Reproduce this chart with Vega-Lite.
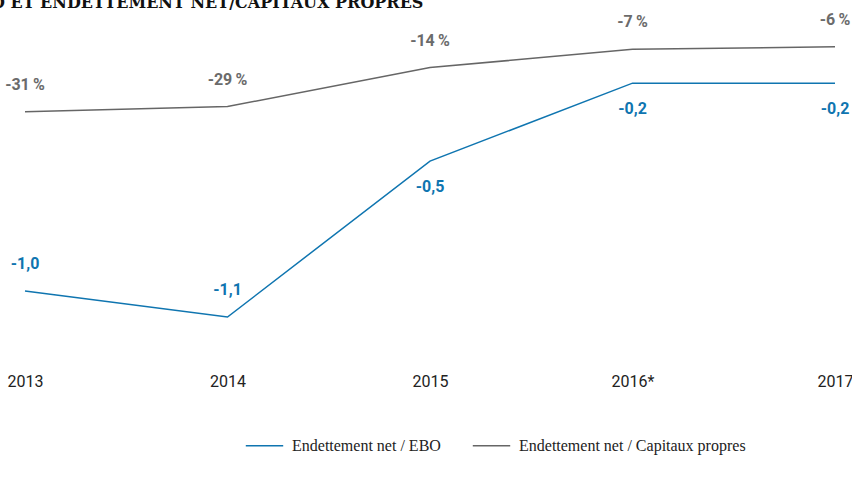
{
  "$schema": "https://vega.github.io/schema/vega-lite/v6.json",
  "autosize": {"type": "none"},
  "width": 810,
  "height": 369,
  "padding": {"left": 25, "top": 0, "right": 17, "bottom": 114},
  "title": {
    "text": "ENDETTEMENT NET/EBO ET ENDETTEMENT NET/CAPITAUX PROPRES",
    "anchor": "start",
    "frame": "group",
    "orient": "top",
    "offset": 0,
    "baseline": "alphabetic",
    "dy": 24,
    "dx": -255,
    "font": "DejaVu Serif",
    "fontSize": 16,
    "fontWeight": "bold",
    "color": "#111111"
  },
  "config": {
    "view": {"stroke": null},
    "locale": {
      "number": {"decimal": ",", "thousands": " ", "grouping": [3], "currency": ["", " €"], "minus": "-", "percent": "\u2009%"}
    }
  },
  "data": {
    "values": [
      {"year": "2013", "series": "Endettement net / EBO", "value": -1.0},
      {"year": "2014", "series": "Endettement net / EBO", "value": -1.1},
      {"year": "2015", "series": "Endettement net / EBO", "value": -0.5},
      {"year": "2016*", "series": "Endettement net / EBO", "value": -0.2},
      {"year": "2017", "series": "Endettement net / EBO", "value": -0.2},
      {"year": "2013", "series": "Endettement net / Capitaux propres", "value": -0.31},
      {"year": "2014", "series": "Endettement net / Capitaux propres", "value": -0.29},
      {"year": "2015", "series": "Endettement net / Capitaux propres", "value": -0.14},
      {"year": "2016*", "series": "Endettement net / Capitaux propres", "value": -0.07},
      {"year": "2017", "series": "Endettement net / Capitaux propres", "value": -0.06}
    ]
  },
  "encoding": {
    "x": {
      "field": "year", "type": "ordinal", "sort": null,
      "scale": {"type": "point", "padding": 0},
      "axis": {
        "title": null, "domain": false, "ticks": false, "grid": false,
        "labelAngle": 0, "labelPadding": 4,
        "labelFont": "Roboto",
        "labelFontSize": 16, "labelColor": "#222222"
      }
    },
    "y": {
      "field": "value", "type": "quantitative",
      "scale": {"domain": [-1.3, 0.12], "nice": false, "zero": false},
      "axis": null
    }
  },
  "layer": [
    {
      "mark": {"type": "line", "strokeWidth": 1.5},
      "encoding": {
        "color": {
          "field": "series", "type": "nominal",
          "scale": {"domain": ["Endettement net / EBO", "Endettement net / Capitaux propres"], "range": ["#0f75b0", "#666666"]},
          "legend": {
            "title": null,
            "orient": "none",
            "direction": "horizontal",
            "legendX": 220,
            "legendY": 426,
            "symbolType": "stroke",
            "symbolSize": 1400,
            "symbolStrokeWidth": 1.5,
            "columnPadding": 28,
            "labelOffset": 8,
            "labelFont": "Liberation Serif",
            "labelFontSize": 16,
            "labelColor": "#222222",
            "labelLimit": 400
          }
        }
      }
    },
    {
      "transform": [{"filter": "datum.series === 'Endettement net / Capitaux propres'"}],
      "mark": {"type": "text", "dy": -27, "baseline": "middle", "font": "Roboto", "fontSize": 16, "fontWeight": "bold", "color": "#6b6b6b"},
      "encoding": {"text": {"field": "value", "type": "quantitative", "format": ".0%"}}
    },
    {
      "transform": [{"filter": "datum.series === 'Endettement net / EBO' && (datum.year === '2013' || datum.year === '2014')"}],
      "mark": {"type": "text", "dy": -27, "baseline": "middle", "font": "Roboto", "fontSize": 16, "fontWeight": "bold", "color": "#0f75b0"},
      "encoding": {"text": {"field": "value", "type": "quantitative", "format": ".1f"}}
    },
    {
      "transform": [{"filter": "datum.series === 'Endettement net / EBO' && datum.year !== '2013' && datum.year !== '2014'"}],
      "mark": {"type": "text", "dy": 26, "baseline": "middle", "font": "Roboto", "fontSize": 16, "fontWeight": "bold", "color": "#0f75b0"},
      "encoding": {"text": {"field": "value", "type": "quantitative", "format": ".1f"}}
    }
  ]
}
